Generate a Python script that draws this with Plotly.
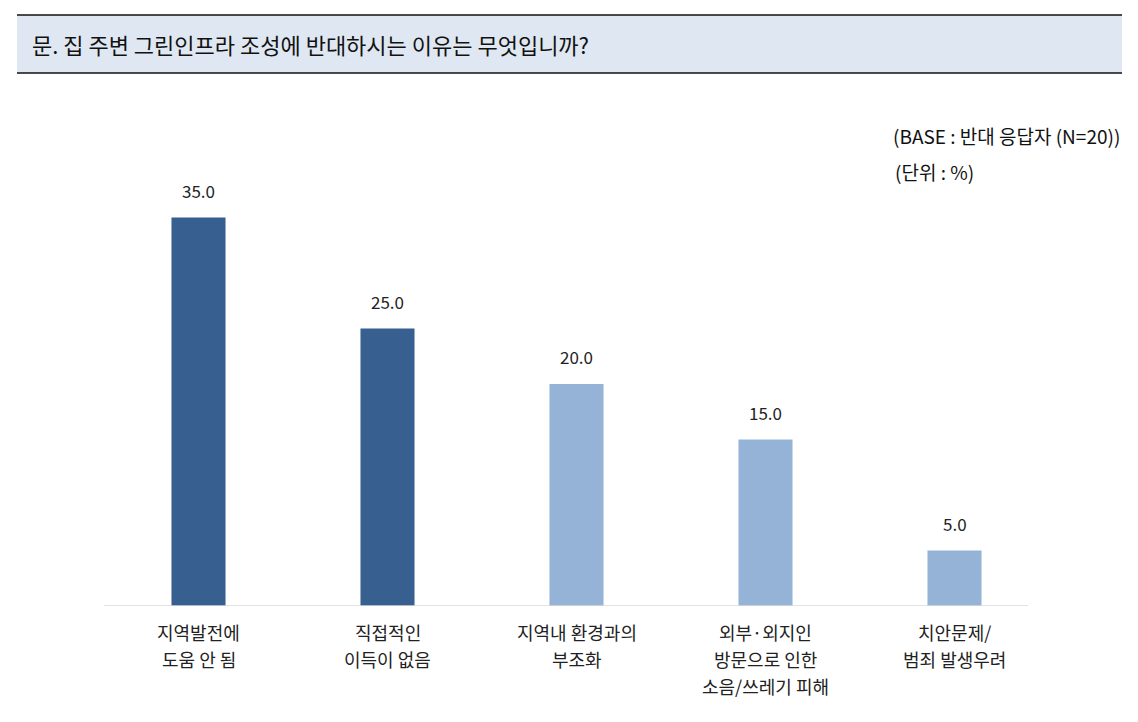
import plotly.graph_objects as go

categories = ["지역발전에\n도움 안 됨", "직접적인\n이득이 없음", "지역내 환경과의\n부조화",
              "외부·외지인\n방문으로 인한\n소음/쓰레기 피해", "치안문제/\n범죄 발생우려"]
values = [35.0, 25.0, 20.0, 15.0, 5.0]
colors = ["#375f8f", "#375f8f", "#95b3d7", "#95b3d7", "#95b3d7"]

FONT = "Noto Sans CJK KR"
L, R, T, B = 104, 89, 162, 116
W, H = 1138, 722
pw, ph = W - L - R, H - T - B

def px(x):
    return (x - L) / pw

def py(y):
    return (H - B - y) / ph

xs = list(range(len(categories)))

fig = go.Figure(go.Bar(
    x=xs, y=values,
    marker=dict(color=colors, line=dict(width=0)),
    width=0.286,
    hoverinfo="skip",
))

annotations = [
    dict(xref="paper", yref="paper", x=px(30), y=py(44), xanchor="left", yanchor="middle",
         text="문. 집 주변 그린인프라 조성에 반대하시는 이유는 무엇입니까?", showarrow=False,
         font=dict(family=FONT, size=22, color="#111111")),
    dict(xref="paper", yref="paper", x=px(1122), y=py(135), xanchor="right", yanchor="middle",
         text="(BASE : 반대 응답자 (N=20))", showarrow=False,
         font=dict(family=FONT, size=19, color="#111111")),
    dict(xref="paper", yref="paper", x=px(893), y=py(171), xanchor="left", yanchor="middle",
         text="(단위 : %)", showarrow=False,
         font=dict(family=FONT, size=19, color="#111111")),
]

# value labels above bars
for x, v in zip(xs, values):
    annotations.append(dict(xref="x", yref="y", x=x, y=v, yanchor="bottom", xanchor="center",
                            yshift=13, text=f"{v:.1f}", showarrow=False,
                            font=dict(family=FONT, size=17, color="#222222")))

# category labels, one annotation per line to get the reference line spacing
line_y = [632, 659, 686]
for x, cat in zip(xs, categories):
    for k, line in enumerate(cat.split("\n")):
        annotations.append(dict(xref="x", yref="paper", x=x, y=py(line_y[k]),
                                xanchor="center", yanchor="middle", text=line, showarrow=False,
                                font=dict(family=FONT, size=18, color="#222222")))

fig.update_layout(
    width=W, height=H,
    margin=dict(l=L, r=R, t=T, b=B),
    paper_bgcolor="white", plot_bgcolor="white",
    showlegend=False,
    xaxis=dict(range=[-0.5, 4.5], showline=False, showgrid=False, zeroline=False, ticks="",
               showticklabels=False),
    yaxis=dict(range=[0, 40], visible=False, showgrid=False, zeroline=False),
    shapes=[
        dict(type="rect", xref="paper", yref="paper", x0=px(17), x1=px(1122), y0=py(73), y1=py(15),
             fillcolor="#dfe8f2", line=dict(width=0), layer="below"),
        dict(type="line", xref="paper", yref="paper", x0=px(17), x1=px(1122), y0=py(15), y1=py(15),
             line=dict(color="#111111", width=1.5)),
        dict(type="line", xref="paper", yref="paper", x0=px(17), x1=px(1122), y0=py(73), y1=py(73),
             line=dict(color="#111111", width=1.5)),
        dict(type="line", xref="paper", yref="y", x0=0, x1=px(1028), y0=0, y1=0,
             line=dict(color="#d9d9d9", width=1.5)),
    ],
    annotations=annotations,
)

fig.write_html("out.html")
